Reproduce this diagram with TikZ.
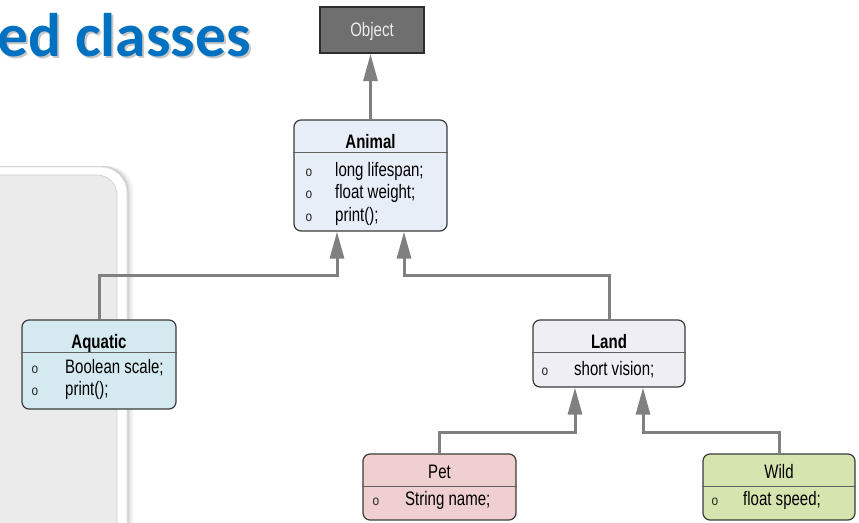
\documentclass[tikz,border=0pt]{standalone}
\usepackage{fontspec}
\setmainfont{Liberation Sans}
\newfontfamily\boxfont[FakeStretch=0.77]{Liberation Sans}
\newfontfamily\titlefont{Carlito}
\newfontfamily\bulletfont[FakeStretch=0.85]{Liberation Mono}
\usetikzlibrary{arrows.meta,calc}

\definecolor{titleblue}{HTML}{0070C0}
\definecolor{panelgray}{HTML}{EBEBEB}
\definecolor{linkgray}{HTML}{808080}
\definecolor{boxline}{HTML}{3A3A3A}
\definecolor{objfill}{HTML}{6F6F6F}
\definecolor{animalfill}{HTML}{E8EEF8}
\definecolor{aquafill}{HTML}{D4EAF0}
\definecolor{landfill}{HTML}{EFEEF5}
\definecolor{petfill}{HTML}{EFCFCF}
\definecolor{wildfill}{HTML}{D6E4AF}

\tikzset{
  classbox/.style={draw=boxline, line width=1.2pt, rounded corners=7pt, inner sep=0pt},
  divider/.style={draw=boxline!80, line width=1.3pt},
  hdr/.style={inner sep=0pt, anchor=base, font=\boxfont\fontsize{19.5}{22}\selectfont\bfseries},
  hdrplain/.style={inner sep=0pt, anchor=base, font=\boxfont\fontsize{19.5}{22}\selectfont},
  item/.style={inner sep=0pt, anchor=base west, font=\boxfont\fontsize{19.5}{22}\selectfont},
  bullet/.style={inner sep=0pt, anchor=base, text=black!85, font=\bulletfont\fontsize{14}{15}\selectfont},
  inh/.style={draw=linkgray, line width=3pt, -{Triangle[length=27pt,width=14pt,fill=linkgray]}},
}

\begin{document}
\begin{tikzpicture}[x=1pt,y=-1pt]
\useasboundingbox (0,0) rectangle (859,522);

% slide backdrop panel with soft shadow on its right
\foreach \d/\o in {7/0.03,5/0.04,3/0.06,1.5/0.08}{
  \fill[black, opacity=\o, rounded corners=26pt] (-40,166) rectangle (127+\d,600);
}
\fill[white, draw=black!12, line width=0.6pt, rounded corners=26pt] (-40,167) rectangle (127,600);
\fill[panelgray, draw=black!17, line width=0.8pt, rounded corners=20pt] (-40,175) rectangle (117,600);

% heading with drop shadow
\node[anchor=base west, inner sep=0pt, text=black, opacity=0.22,
      font=\titlefont\bfseries\fontsize{61.5}{62}\selectfont] (titleshadow) at (-1,58) {ed classes};
\node[anchor=base west, inner sep=0pt, text=titleblue,
      font=\titlefont\bfseries\fontsize{61.5}{62}\selectfont] (title) at (-3,56) {ed classes};

% Object
\node[draw=black!82, line width=2pt, fill=objfill, minimum width=104pt, minimum height=46pt,
      inner sep=0pt, text=black!8, text height=14pt, text depth=2pt,
      font=\boxfont\fontsize{19.5}{22}\selectfont] (object) at (372,30) {Object};

% Animal
\node[classbox, fill=animalfill, minimum width=153pt, minimum height=111pt] (animal) at (370.5,175.5) {};
\draw[divider] ($(animal.north west)+(0,33)$) -- ($(animal.north east)+(0,33)$);
\node[hdr] (animalname) at (370.5,148) {Animal};
\node[bullet] (ab1) at (309,176) {o};
\node[item] (ai1) at (335,176) {long lifespan;};
\node[bullet] (ab2) at (309,198.5) {o};
\node[item] (ai2) at (335,198.5) {float weight;};
\node[bullet] (ab3) at (309,221) {o};
\node[item] (ai3) at (335,221) {print();};

% Aquatic
\node[classbox, fill=aquafill, minimum width=154pt, minimum height=89pt] (aquatic) at (99,364.5) {};
\draw[divider] ($(aquatic.north west)+(0,33)$) -- ($(aquatic.north east)+(0,33)$);
\node[hdr] (aquaticname) at (99,348) {Aquatic};
\node[bullet] (qb1) at (35,373.5) {o};
\node[item] (qi1) at (65,373.5) {Boolean scale;};
\node[bullet] (qb2) at (35,395.5) {o};
\node[item] (qi2) at (65,395.5) {print();};

% Land
\node[classbox, fill=landfill, minimum width=152pt, minimum height=67pt] (land) at (609,353.5) {};
\draw[divider] ($(land.north west)+(0,33)$) -- ($(land.north east)+(0,33)$);
\node[hdr] (landname) at (609,348) {Land};
\node[bullet] (lb1) at (545,375.5) {o};
\node[item] (li1) at (574,375.5) {short vision;};

% Pet
\node[classbox, fill=petfill, minimum width=153pt, minimum height=66pt] (pet) at (439.5,487) {};
\draw[divider] ($(pet.north west)+(0,33)$) -- ($(pet.north east)+(0,33)$);
\node[hdrplain] (petname) at (439.5,478.5) {Pet};
\node[bullet] (pb1) at (376,505) {o};
\node[item] (pi1) at (405,505) {String name;};

% Wild
\node[classbox, fill=wildfill, minimum width=152pt, minimum height=66pt] (wild) at (779,487) {};
\draw[divider] ($(wild.north west)+(0,33)$) -- ($(wild.north east)+(0,33)$);
\node[hdrplain] (wildname) at (779,478.5) {Wild};
\node[bullet] (wb1) at (715,505) {o};
\node[item] (wi1) at (743,505) {float speed;};

% inheritance links
\coordinate (aqbend) at (337,275);
\coordinate (ldbend) at (404,275);
\coordinate (ptbend) at (575,432);
\coordinate (wdbend) at (643,432);
\draw[inh] (animal.north) -- (animal.north |- object.south);
\draw[inh] (aquatic.north) |- (aqbend) -- (aqbend |- animal.south);
\draw[inh] (land.north) |- (ldbend) -- (ldbend |- animal.south);
\draw[inh] (pet.north) |- (ptbend) -- (ptbend |- land.south);
\draw[inh] (wild.north) |- (wdbend) -- (wdbend |- land.south);
\end{tikzpicture}
\end{document}
